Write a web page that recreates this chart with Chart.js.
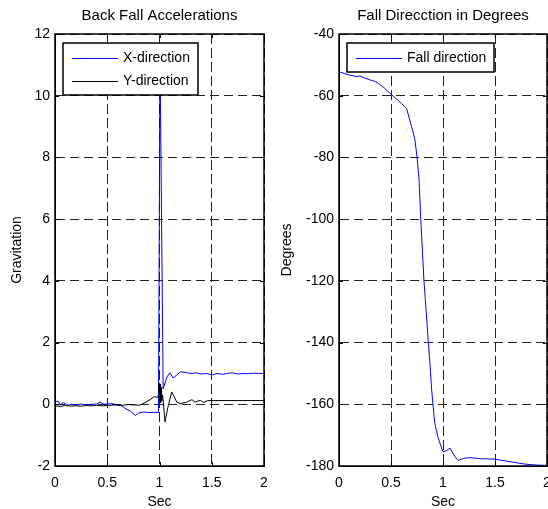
<!DOCTYPE html>
<html>
<head>
<meta charset="utf-8">
<script src="https://cdn.jsdelivr.net/npm/chart.js@4/dist/chart.umd.min.js"></script>
<style>
  html, body { margin: 0; padding: 0; background: #fff; overflow: hidden; }
  canvas { position: absolute; top: 0; }
  #accCanvas { left: 0; }
  #dirCanvas { left: 280px; }
</style>
</head>
<body>
<canvas id="accCanvas" width="280" height="509"></canvas>
<canvas id="dirCanvas" width="300" height="509"></canvas>
<script>
// Acceleración durante la caída hacia atrás (en g)
const accXTime = [0, 0.03, 0.05, 0.08, 0.1, 0.13, 0.15, 0.2, 0.25, 0.3, 0.35, 0.4, 0.43, 0.47, 0.5, 0.55, 0.6, 0.64, 0.67, 0.72, 0.77, 0.8, 0.85, 0.9, 0.95, 0.99, 1.005, 1.035, 1.07, 1.1, 1.13, 1.165, 1.2, 1.25, 1.3, 1.35, 1.4, 1.45, 1.5, 1.55, 1.6, 1.65, 1.7, 1.75, 1.8, 1.85, 1.9, 1.95, 2.0];
const accX = [0.07, 0.1, -0.02, 0.05, 0.02, -0.03, 0.0, -0.02, 0.01, -0.02, 0.0, 0.01, 0.07, 0.0, 0.01, 0.02, -0.03, -0.05, -0.13, -0.22, -0.36, -0.28, -0.25, -0.27, -0.26, -0.27, 11.3, 0.5, 0.88, 1.02, 0.85, 0.95, 1.05, 1.03, 1.0, 1.02, 0.98, 1.0, 0.95, 1.0, 0.97, 1.0, 1.02, 0.98, 1.0, 0.99, 1.01, 1.0, 1.0];
const accYTime = [0, 0.05, 0.1, 0.15, 0.2, 0.25, 0.3, 0.35, 0.4, 0.45, 0.5, 0.55, 0.6, 0.65, 0.7, 0.75, 0.81, 0.86, 0.91, 0.95, 0.98, 0.99, 0.995, 1.0, 1.005, 1.01, 1.015, 1.02, 1.03, 1.053, 1.08, 1.117, 1.14, 1.165, 1.2, 1.26, 1.31, 1.34, 1.39, 1.42, 1.46, 1.5, 2.0];
const accY = [-0.05, -0.07, -0.04, -0.06, -0.05, -0.06, -0.04, -0.05, -0.03, -0.05, -0.04, -0.03, -0.02, -0.03, -0.01, -0.02, -0.03, 0.05, 0.15, 0.25, 0.22, 0.3, 0.7, 0.1, 0.65, 0.05, 0.55, 0.1, 0.3, -0.57, -0.1, 0.4, 0.25, 0.07, 0.02, 0.07, 0.15, 0.07, 0.13, 0.06, 0.12, 0.12, 0.12];

// Dirección de la caída (grados)
const dirTime = [0, 0.05, 0.1, 0.17, 0.2, 0.25, 0.3, 0.35, 0.39, 0.44, 0.49, 0.55, 0.6, 0.65, 0.68, 0.71, 0.73, 0.75, 0.77, 0.786, 0.817, 0.83, 0.855, 0.875, 0.89, 0.92, 0.95, 0.97, 1.0, 1.035, 1.067, 1.115, 1.147, 1.2, 1.26, 1.35, 1.5, 1.64, 1.79, 1.9, 2.0];
const dirDeg = [-52.2, -52.8, -53.3, -53.8, -53.6, -54.3, -54.9, -55.4, -56.3, -57.6, -59.2, -61.0, -62.5, -64.1, -67.9, -71.5, -74.3, -79.8, -87.3, -100, -120, -126, -138, -147, -155, -166, -170.5, -172.6, -175.4, -175, -174.2, -177, -178.2, -177.5, -177.3, -177.6, -177.8, -178.6, -179.4, -179.7, -179.8];

// Marcas de los ejes
const secTicks = [0, 0.5, 1, 1.5, 2];
const accTicks = [-2, 0, 2, 4, 6, 8, 10, 12];
const dirTicks = [-180, -160, -140, -120, -100, -80, -60, -40];

const FONT = '"Liberation Sans", Arial, sans-serif';

function puntos(xs, ys) {
    return xs.map((x, i) => ({ x: x, y: ys[i] }));
}

// Caja del eje con marcas interiores
const marco = {
    id: 'marco',
    afterDatasetsDraw(chart) {
        const { ctx, chartArea: a, scales } = chart;
        ctx.save();
        ctx.strokeStyle = '#000';
        ctx.lineWidth = 1;
        ctx.beginPath();
        scales.x.ticks.forEach(t => {
            const px = Math.round(scales.x.getPixelForValue(t.value)) + 0.5;
            ctx.moveTo(px, a.bottom); ctx.lineTo(px, a.bottom - 4);
            ctx.moveTo(px, a.top); ctx.lineTo(px, a.top + 4);
        });
        scales.y.ticks.forEach(t => {
            const py = Math.round(scales.y.getPixelForValue(t.value)) + 0.5;
            ctx.moveTo(a.left, py); ctx.lineTo(a.left + 4, py);
            ctx.moveTo(a.right, py); ctx.lineTo(a.right - 4, py);
        });
        ctx.stroke();
        ctx.lineWidth = 1.5;
        ctx.strokeRect(Math.round(a.left), Math.round(a.top), Math.round(a.right - a.left), Math.round(a.bottom - a.top));
        ctx.restore();
    }
};

// Leyenda con recuadro dentro del área del gráfico
const leyenda = {
    id: 'leyenda',
    afterDatasetsDraw(chart) {
        const ctx = chart.ctx;
        const a = chart.chartArea;
        const sets = chart.data.datasets;
        ctx.save();
        ctx.font = '14px ' + FONT;
        const textW = Math.max(...sets.map(d => ctx.measureText(d.label).width));
        const x = Math.round(a.left) + 8, y = Math.round(a.top) + 9;
        const w = Math.round(60 + textW + 8), h = sets.length * 23 + 6;
        ctx.fillStyle = '#fff';
        ctx.fillRect(x, y, w, h);
        ctx.strokeStyle = '#000';
        ctx.lineWidth = 1.5;
        ctx.strokeRect(x, y, w, h);
        sets.forEach((d, i) => {
            const cy = Math.round(y + 15 + i * 23) + 0.5;
            ctx.strokeStyle = d.borderColor;
            ctx.lineWidth = 1;
            ctx.beginPath();
            ctx.moveTo(x + 9, cy);
            ctx.lineTo(x + 55, cy);
            ctx.stroke();
            ctx.fillStyle = '#000';
            ctx.textBaseline = 'middle';
            ctx.fillText(d.label, x + 60, cy);
        });
        ctx.restore();
    }
};

function opciones(cfg) {
    return {
        responsive: false,
        animation: false,
        layout: { padding: { left: 0, right: cfg.padRight, top: 0, bottom: 0 } },
        plugins: {
            legend: { display: false },
            tooltip: { enabled: false },
            title: {
                display: true,
                text: cfg.title,
                fullSize: false,
                color: '#000',
                font: { family: FONT, size: 15, weight: 'normal', lineHeight: 1 },
                padding: { top: 8, bottom: 11 }
            }
        },
        scales: {
            x: {
                type: 'linear',
                min: 0,
                max: 2,
                afterBuildTicks: s => { s.ticks = secTicks.map(v => ({ value: v })); },
                afterFit: s => { s.height = 43; },
                grid: { color: '#222', lineWidth: 1, drawTicks: false },
                border: { display: true, color: '#000', width: 1, dash: [10, 4] },
                ticks: { color: '#000', padding: 9, maxRotation: 0, font: { family: FONT, size: 14 }, callback: v => String(v) },
                title: {
                    display: true, text: 'Sec', color: '#000',
                    font: { family: FONT, size: 14, lineHeight: 1 },
                    padding: { top: 0, bottom: 0 }
                }
            },
            y: {
                type: 'linear',
                min: cfg.yMin,
                max: cfg.yMax,
                afterBuildTicks: s => { s.ticks = cfg.yTicks.map(v => ({ value: v })); },
                afterFit: s => { s.width = cfg.axisWidth; },
                grid: { color: '#222', lineWidth: 1, drawTicks: false },
                border: { display: true, color: '#000', width: 1, dash: [9, 5] },
                ticks: { color: '#000', padding: 5, font: { family: FONT, size: 14 }, callback: v => String(v) },
                title: {
                    display: true, text: cfg.yTitle, color: '#000',
                    font: { family: FONT, size: 14, lineHeight: 1 },
                    padding: { top: cfg.yTitlePad, bottom: 0 }
                }
            }
        }
    };
}

new Chart(document.getElementById('accCanvas'), {
    type: 'line',
    data: {
        datasets: [
            { label: 'X-direction', data: puntos(accXTime, accX), borderColor: '#0000ff', borderWidth: 1, pointRadius: 0, fill: false, order: 1 },
            { label: 'Y-direction', data: puntos(accYTime, accY), borderColor: '#000000', borderWidth: 1, pointRadius: 0, fill: false, order: 0 }
        ]
    },
    options: opciones({ title: 'Back Fall Accelerations', yTitle: 'Gravitation', yMin: -2, yMax: 12, yTicks: accTicks, axisWidth: 55, yTitlePad: 10, padRight: 16 }),
    plugins: [marco, leyenda]
});

new Chart(document.getElementById('dirCanvas'), {
    type: 'line',
    data: {
        datasets: [
            { label: 'Fall direction', data: puntos(dirTime, dirDeg), borderColor: '#0000ff', borderWidth: 1, pointRadius: 0, fill: false }
        ]
    },
    options: opciones({ title: 'Fall Direcction in Degrees', yTitle: 'Degrees', yMin: -180, yMax: -40, yTicks: dirTicks, axisWidth: 59, yTitlePad: 0, padRight: 33 }),
    plugins: [marco, leyenda]
});
</script>
</body>
</html>
